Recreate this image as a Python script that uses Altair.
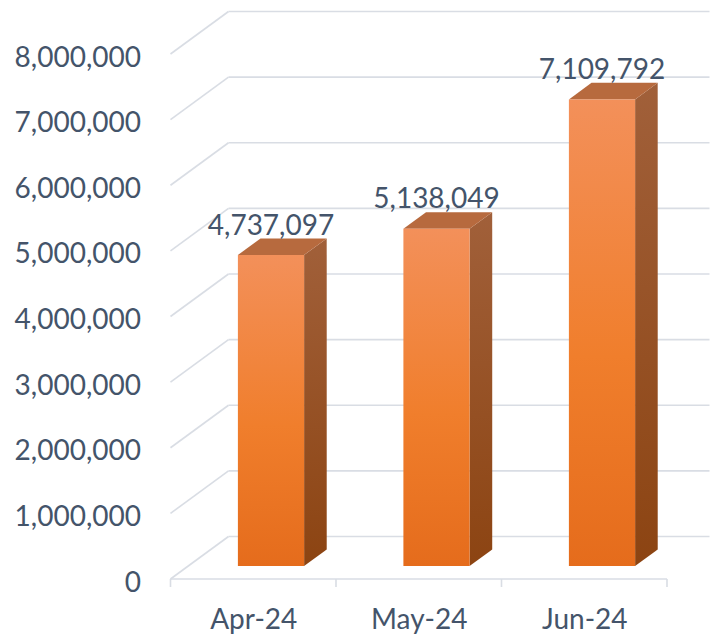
import json
import altair as alt
import pandas as pd

# ---------------- data ----------------
categories = ["Apr-24", "May-24", "Jun-24"]
values = [4737097, 5138049, 7109792]
y_ticks = [0, 1000000, 2000000, 3000000, 4000000, 5000000, 6000000, 7000000, 8000000]

# ---------------- geometry (scale units) ----------------
W, H = 539, 571                 # plot area in px
BAND_PX = 165.5                 # px per category band
PX_PER_VAL = 65.625 / 1e6       # px per unit of value
XMAX = W / BAND_PX
YMAX = H / PX_PER_VAL
DEPTH_X = 58 / BAND_PX          # full floor depth, x shift
DEPTH_Y = 42.5 / PX_PER_VAL     # full floor depth, y shift
BAR_D0 = 0.306                  # front plane of bars (fraction of depth)
BAR_DD = 0.39                   # bar depth (fraction of depth)
BAR_W = 0.40                    # bar width (fraction of band)
TICK_LEN = 8 / PX_PER_VAL

GRID = "#D9DDE4"
TEXT = "#44546A"
FONT = "Lato"

xs = alt.Scale(domain=[0, XMAX], nice=False, zero=False)
ys = alt.Scale(domain=[0, YMAX], nice=False, zero=False)

label_expr = json.dumps(categories) + "[floor(datum.value)]"
X_AXIS = alt.Axis(values=[0.5 + k for k in range(len(categories))],
                  labelExpr=label_expr, ticks=False, domain=False, grid=False,
                  labelFont=FONT, labelFontSize=28, labelColor=TEXT,
                  labelPadding=27, title=None)
Y_AXIS = alt.Axis(values=y_ticks, labelExpr="format(datum.value, ',')",
                  ticks=False, domain=False, grid=False,
                  labelFont=FONT, labelFontSize=28, labelColor=TEXT,
                  labelBaseline="alphabetic", labelOffset=12,
                  labelPadding=30, title=None)


def X(f):
    return alt.X(f, type="quantitative", scale=xs, axis=X_AXIS)


def Y(f):
    return alt.Y(f, type="quantitative", scale=ys, axis=Y_AXIS)


# ---------------- tables ----------------
grid_df = pd.DataFrame({"v": y_ticks})
grid_df["x0"] = 0.0
grid_df["xd"] = DEPTH_X
grid_df["xe"] = XMAX
grid_df["vb"] = grid_df["v"] + DEPTH_Y

tick_df = pd.DataFrame({"x": [float(k) for k in range(len(categories) + 1)]})
tick_df["y"] = 0.0
tick_df["y2"] = -TICK_LEN

axis_df = pd.DataFrame({"x": [0.0], "x2": [float(len(categories))], "y": [0.0]})

front_rows, side_rows, top_rows, label_rows = [], [], [], []
bx = BAR_DD * DEPTH_X
by = BAR_DD * DEPTH_Y
base = BAR_D0 * DEPTH_Y
for i, (c, v) in enumerate(zip(categories, values)):
    xl = i + 0.5 - BAR_W / 2 + BAR_D0 * DEPTH_X
    xr = xl + BAR_W
    front_rows.append({"c": c, "x": xl, "x2": xr, "y": base, "y2": base + v})
    side_rows.append({"c": c, "x": xr, "lo": base, "hi": base + v})
    side_rows.append({"c": c, "x": xr + bx, "lo": base + by, "hi": base + v + by})
    top_rows.append({"c": c, "y": base + v, "xa": xl, "xb": xr})
    top_rows.append({"c": c, "y": base + v + by, "xa": xl + bx, "xb": xr + bx})
    label_rows.append({"c": c, "x": (xl + xr) / 2, "y": base + v + by, "v": v})

front_df = pd.DataFrame(front_rows)
side_df = pd.DataFrame(side_rows)
top_df = pd.DataFrame(top_rows)
label_df = pd.DataFrame(label_rows)

# ---------------- layers ----------------
back_wall = alt.Chart(grid_df).mark_rule(color=GRID, strokeWidth=1.6).encode(
    x=X("xd:Q"), x2="xe:Q", y=Y("vb:Q")
)

diagonals = alt.Chart(grid_df).mark_rule(color=GRID, strokeWidth=1.6).encode(
    x=X("x0:Q"), x2="xd:Q", y=Y("v:Q"), y2="vb:Q"
)

axis_line = alt.Chart(axis_df).mark_rule(color=GRID, strokeWidth=1.6).encode(
    x=X("x:Q"), x2="x2:Q", y=Y("y:Q")
)

ticks = alt.Chart(tick_df).mark_rule(color=GRID, strokeWidth=1.6).encode(
    x=X("x:Q"), y=Y("y:Q"), y2="y2:Q"
)

side_grad = alt.LinearGradient(
    gradient="linear", x1=0, x2=0, y1=0, y2=1,
    stops=[alt.GradientStop(offset=0, color="#A1603A"),
           alt.GradientStop(offset=1, color="#8C4412")],
)
front_grad = alt.LinearGradient(
    gradient="linear", x1=0, x2=0, y1=0, y2=1,
    stops=[alt.GradientStop(offset=0, color="#F3905A"),
           alt.GradientStop(offset=0.55, color="#F07E2C"),
           alt.GradientStop(offset=1, color="#E56C1C")],
)

side = alt.Chart(side_df).mark_area(fill=side_grad, opacity=1).encode(
    x=X("x:Q"), y=Y("hi:Q"), y2="lo:Q", detail="c:N"
)

top = alt.Chart(top_df).mark_area(orient="horizontal", color="#B76A3E", opacity=1).encode(
    y=Y("y:Q"), x=X("xa:Q"), x2="xb:Q", detail="c:N"
)

front = alt.Chart(front_df).mark_rect(fill=front_grad, opacity=1).encode(
    x=X("x:Q"), x2="x2:Q", y=Y("y:Q"), y2="y2:Q"
)

labels = alt.Chart(label_df).mark_text(
    font=FONT, fontSize=28, color=TEXT, align="center", baseline="alphabetic", dy=-4
).encode(x=X("x:Q"), y=Y("y:Q"), text=alt.Text("v:Q", format=","))

chart = alt.layer(back_wall, diagonals, axis_line, ticks, side, top, front, labels).properties(
    width=W,
    height=H,
    background="white",
    autosize=alt.AutoSizeParams(type="none"),
    padding={"left": 162.5, "top": 0, "right": 0, "bottom": 64},
).configure_view(strokeWidth=0)

chart.save("out.html", embed_options={"renderer": "svg", "actions": False})
